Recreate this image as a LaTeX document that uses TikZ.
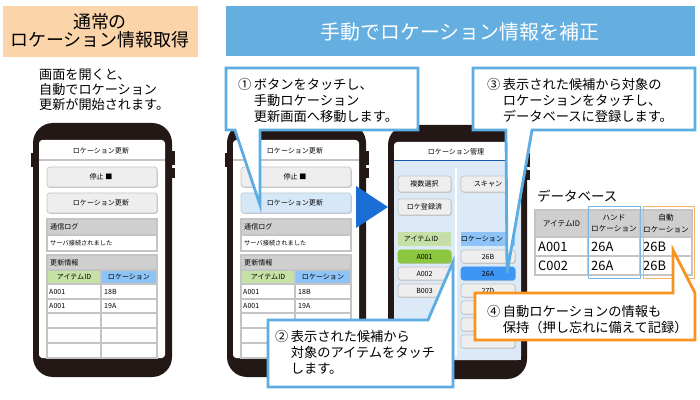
\documentclass[tikz,border=0pt]{standalone}
\usepackage{fontspec}
\setmainfont{Noto Sans CJK JP}
\definecolor{phoneblk}{HTML}{231815}
\definecolor{titleorg}{HTML}{FBD4A9}
\definecolor{titleblu}{HTML}{64AEE0}
\definecolor{callblu}{HTML}{5DADE3}
\definecolor{callorg}{HTML}{F7931E}
\definecolor{btngray}{HTML}{EEEEEE}
\definecolor{btnedge}{HTML}{C4C4C4}
\definecolor{hdgray}{HTML}{CFCFCF}
\definecolor{idgreen}{HTML}{C5E1A5}
\definecolor{locblue}{HTML}{8DC3F6}
\definecolor{selgreen}{HTML}{8DC63F}
\definecolor{selblue}{HTML}{3E96F4}
\definecolor{scrblue}{HTML}{DCEAF7}
\definecolor{hiblue}{HTML}{D6E8F8}
\definecolor{arrblue}{HTML}{1B6ED6}
\definecolor{dbblue}{HTML}{7DB7E5}
\definecolor{dborg}{HTML}{F6B46A}

\begin{document}
\begin{tikzpicture}[x=0.03cm,y=-0.03cm]
\tikzstyle{every node}+=[inner sep=0pt]
\tikzstyle{tiny}=[font=\fontsize{6}{7}\selectfont]
\tikzstyle{tinier}=[font=\fontsize{5.3}{6}\selectfont]
\tikzstyle{btn}=[fill=btngray, draw=btnedge, line width=0.6pt, rounded corners=0.08cm, preaction={fill=black!22, transform canvas={shift={(0.8,0.9)}}}]
\tikzstyle{cell}=[draw=btnedge, line width=0.9pt]
\tikzstyle{callout}=[fill=white, draw=callblu, line width=2.4pt]
\tikzstyle{calltext}=[anchor=north west, align=left, font=\fontsize{11.3}{13.3}\selectfont]
\tikzstyle{dbtext}=[anchor=west, font=\fontsize{11}{12}\selectfont]
\tikzstyle{dbhead}=[align=center, font=\fontsize{6.5}{9.5}\selectfont]
\useasboundingbox (0,0) rectangle (700,400);
% titles
\fill [titleorg] (3,6) rectangle (198,57);
\node [align=center, font=\fontsize{15.3}{15.5}\selectfont] (ttlauto) at (100,31) {通常の\\ロケーション情報取得};
\fill [titleblu] (226,6) rectangle (695,56);
\node [white, font=\fontsize{17}{20}\selectfont] (ttlhand) at (460,32) {手動でロケーション情報を補正};
\node [anchor=north west, align=left, font=\fontsize{11.2}{12.8}\selectfont] (intro) at (39,68.5) {画面を開くと、\\自動でロケーション\\更新が開始されます。};
% left phone
\fill [phoneblk, rounded corners=0.6cm] (33,123) rectangle (172,377);
\fill [phoneblk] (171,151) rectangle (174.5,165);
\fill [phoneblk] (171,168) rectangle (174.5,178);
\fill [phoneblk] (30.5,153) rectangle (34,167);
\fill [white, rounded corners=0.1cm] (39,140) rectangle (165,358);
\draw [btnedge, line width=1.2pt] (39,160) -- (165,160);
\node [tiny] (lhead) at (101,151) {ロケーション更新};
\draw [btn] (47,167) rectangle (157,187);
\node [tiny] (lstop) at (101,177) {停止 ■};
\draw [btn] (47,193) rectangle (157,213);
\node [tiny] (lupd) at (101,203) {ロケーション更新};
\draw [cell, fill=hdgray] (47,219) rectangle (157,235);
\node [tiny, anchor=west] (llog) at (50,227) {通信ログ};
\draw [cell, fill=white] (47,235) rectangle (157,251);
\node [tinier, anchor=west] (lmsg) at (50,243) {サーバ接続されました};
\draw [cell, fill=hdgray] (47,255) rectangle (157,270);
\node [tiny, anchor=west] (linfo) at (50,262.5) {更新情報};
\draw [cell, fill=idgreen] (47,270) rectangle (101,284);
\node [tiny] (lidh) at (74,277) {アイテムID};
\draw [cell, fill=locblue] (101,270) rectangle (157,284);
\node [tiny] (lloch) at (129,277) {ロケーション};
\draw [cell, fill=white] (47,284) rectangle (157,358);
\draw [cell] (101,284) -- (101,358);
\draw [cell] (47,299) -- (157,299);
\draw [cell] (47,313) -- (157,313);
\draw [cell] (47,328) -- (157,328);
\draw [cell] (47,343) -- (157,343);
\node [tiny, anchor=west] (lid1) at (49,291.5) {A001};
\node [tiny, anchor=west] (lloc1) at (104,291.5) {18B};
\node [tiny, anchor=west] (lid2) at (49,306) {A001};
\node [tiny, anchor=west] (lloc2) at (104,306) {19A};
% middle phone
\fill [phoneblk, rounded corners=0.6cm] (227,123) rectangle (366,377);
\fill [phoneblk] (365,151) rectangle (368.5,165);
\fill [phoneblk] (365,168) rectangle (368.5,178);
\fill [phoneblk] (224.5,153) rectangle (228,167);
\fill [white, rounded corners=0.1cm] (233,140) rectangle (359,358);
\draw [btnedge, line width=1.2pt] (233,160) -- (359,160);
\node [tiny] (mhead) at (295,151) {ロケーション更新};
\draw [btn] (241,167) rectangle (351,187);
\node [tiny] (mstop) at (295,177) {停止 ■};
\draw [btn, fill=hiblue, draw=hiblue!70!gray] (241,193) rectangle (351,213);
\node [tiny] (mupd) at (295,203) {ロケーション更新};
\draw [cell, fill=hdgray] (241,219) rectangle (351,235);
\node [tiny, anchor=west] (mlog) at (244,227) {通信ログ};
\draw [cell, fill=white] (241,235) rectangle (351,251);
\node [tinier, anchor=west] (mmsg) at (244,243) {サーバ接続されました};
\draw [cell, fill=hdgray] (241,255) rectangle (351,270);
\node [tiny, anchor=west] (minfo) at (244,262.5) {更新情報};
\draw [cell, fill=idgreen] (241,270) rectangle (295,284);
\node [tiny] (midh) at (268,277) {アイテムID};
\draw [cell, fill=locblue] (295,270) rectangle (351,284);
\node [tiny] (mloch) at (323,277) {ロケーション};
\draw [cell, fill=white] (241,284) rectangle (351,358);
\draw [cell] (295,284) -- (295,358);
\draw [cell] (241,299) -- (351,299);
\draw [cell] (241,313) -- (351,313);
\draw [cell] (241,328) -- (351,328);
\draw [cell] (241,343) -- (351,343);
\node [tiny, anchor=west] (mid1) at (243,291.5) {A001};
\node [tiny, anchor=west] (mloc1) at (298,291.5) {18B};
\node [tiny, anchor=west] (mid2) at (243,306) {A001};
\node [tiny, anchor=west] (mloc2) at (298,306) {19A};
% right phone
\fill [phoneblk, rounded corners=0.6cm] (388,125) rectangle (527,379);
\fill [phoneblk] (526,153) rectangle (529.5,167);
\fill [phoneblk] (526,170) rectangle (529.5,180);
\fill [white, rounded corners=0.1cm] (394,142) rectangle (521,360);
\fill [scrblue] (394,160) rectangle (521,360);
\draw [arrblue!80!black, line width=0.8pt] (394,160) -- (521,160);
\node [tiny] (rhead) at (456,151.5) {ロケーション管理};
\draw [white, line width=1.5pt] (456,168) -- (456,356);
\draw [btn] (398,176) rectangle (451,192);
\node [tiny] (rmulti) at (424.5,184) {複数選択};
\draw [btn] (461,176) rectangle (515,192);
\node [tiny] (rscan) at (488,184) {スキャン};
\draw [btn] (398,199) rectangle (451,215);
\node [tiny] (rdone) at (424.5,207) {ロケ登録済};
\fill [idgreen] (398,232) rectangle (451,246);
\node [tiny] (ridh) at (421,239) {アイテムID};
\draw [white!55!gray, line width=0.7pt, dash pattern=on 0.9pt off 0.6pt] (443,239) circle [radius=0.1cm];
\fill [locblue] (461,232) rectangle (515,246);
\node [tiny] (rloch) at (482,239) {ロケーション};
\draw [white!55!gray, line width=0.7pt, dash pattern=on 0.9pt off 0.6pt] (506,239) circle [radius=0.1cm];
\draw [btn, fill=selgreen, draw=selgreen] (398,250) rectangle (451,263);
\node [tiny] (rid1) at (424.5,256.5) {A001};
\draw [btn] (398,267) rectangle (451,280);
\node [tiny] (rid2) at (424.5,273.5) {A002};
\draw [btn] (398,284) rectangle (451,297);
\node [tiny] (rid3) at (424.5,290.5) {B003};
\draw [btn] (461,250) rectangle (515,263);
\node [tiny] (rloc1) at (488,256.5) {26B};
\draw [btn, fill=selblue, draw=selblue] (461,267) rectangle (515,280);
\node [tiny] (rloc2) at (488,273.5) {26A};
\draw [btn] (461,284) rectangle (515,297);
\node [tiny] (rloc3) at (488,290.5) {27D};
\draw [btn] (461,301) rectangle (515,314);
\draw [btn] (461,318) rectangle (515,331);
\draw [btn] (461,335) rectangle (515,348);
% arrow between screens
\fill [arrblue] (356,186) -- (388,207) -- (356,228) -- cycle;
% database
\node [anchor=west, font=\fontsize{11.5}{14}\selectfont] (dbname) at (537,196) {データベース};
\fill [hdgray] (535,210) rectangle (692,237);
\draw [cell] (535,210) rectangle (692,275);
\draw [cell] (535,237) -- (692,237);
\draw [cell] (535,256) -- (692,256);
\draw [cell] (588,210) -- (588,275);
\draw [cell] (640,210) -- (640,275);
\node [dbhead] (dbidh) at (561.5,223.5) {アイテムID};
\node [dbhead] (dbhandh) at (614,223.5) {ハンド\\ロケーション};
\node [dbhead] (dbautoh) at (666,223.5) {自動\\ロケーション};
\node [dbtext] (dbid1) at (538,246.5) {A001};
\node [dbtext] (dbhand1) at (591,246.5) {26A};
\node [dbtext] (dbauto1) at (643,246.5) {26B};
\node [dbtext] (dbid2) at (538,265.5) {C002};
\node [dbtext] (dbhand2) at (591,265.5) {26A};
\node [dbtext] (dbauto2) at (643,265.5) {26B};
\draw [dbblue, line width=0.8pt] (588,206) rectangle (640,278);
\draw [dborg, line width=0.8pt] (643,206) rectangle (694,278);
% callouts
\coordinate (tipA) at (260,205);
\coordinate (tipB) at (453,262);
\coordinate (tipC) at (507,273);
\coordinate (tipD) at (673,250);
\draw [callout] (226,68) -- (418,68) -- (418,130) -- (260,130) -- (tipA) -- (235,130) -- (226,130) -- cycle;
\node [calltext] (noteA) at (238,78.5) {①\kern2pt ボタンをタッチし、\\\hphantom{①\kern2pt}手動ロケーション\\\hphantom{①\kern2pt}更新画面へ移動します。};
\draw [callout] (473,68) -- (695,68) -- (695,130) -- (532,130) -- (tipC) -- (506,130) -- (473,130) -- cycle;
\node [calltext] (noteC) at (487,78.5) {③\kern2pt 表示された候補から対象の\\\hphantom{③\kern2pt}ロケーションをタッチし、\\\hphantom{③\kern2pt}データベースに登録します。};
\draw [callout] (268,320) -- (428,320) -- (tipB) -- (453,320) -- (453,387) -- (268,387) -- cycle;
\node [calltext] (noteB) at (275,330.5) {②\kern2pt 表示された候補から\\\hphantom{②\kern2pt}対象のアイテムをタッチ\\\hphantom{②\kern2pt}します。};
\draw [callout, draw=callorg] (475,293) -- (673,293) -- (tipD) -- (695,293) -- (695,340) -- (475,340) -- cycle;
\node [calltext] (noteD) at (487,305.5) {④\kern2pt 自動ロケーションの情報も\\\hphantom{④\kern2pt}保持（押し忘れに備えて記録）};
\end{tikzpicture}
\end{document}
